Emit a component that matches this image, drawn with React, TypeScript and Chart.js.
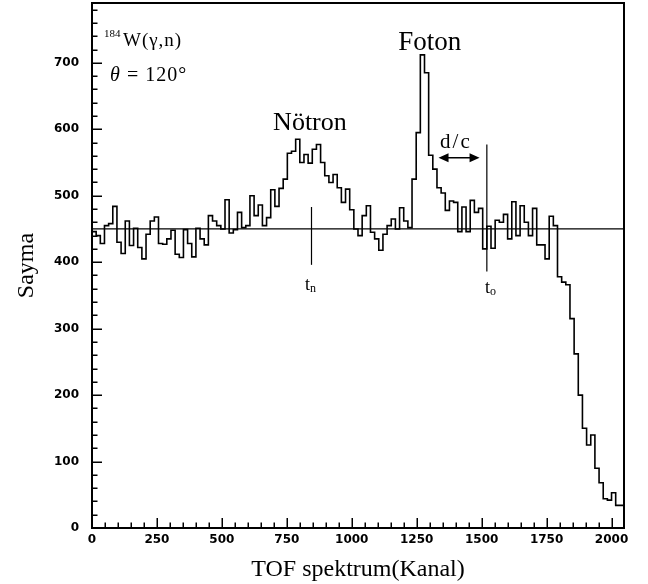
import React, { useEffect, useRef } from "react";
import { Chart, registerables } from "chart.js";

Chart.register(...registerables);

// ---------- data ----------
const BIN_WIDTH = 16;
const X_MAX = 2048;
const Y_MAX = 790;
const X_TICKS = [0, 250, 500, 750, 1000, 1250, 1500, 1750, 2000];
const Y_TICKS = [0, 100, 200, 300, 400, 500, 600, 700];
const X_MINOR_STEP = 50;
const Y_MINOR_STEP = 20;

// counts per 16-channel bin (128 bins, channel 0..2048)
const counts = [
  472, 446, 440, 428, 455, 458, 484, 430, 413, 462, 425, 451, 422, 405, 442, 462,
  468, 428, 427, 435, 448, 412, 407, 449, 428, 408, 451, 435, 426, 470, 462, 455,
  450, 494, 444, 449, 475, 452, 455, 500, 470, 486, 455, 467, 509, 484, 511, 525,
  564, 567, 585, 550, 562, 549, 570, 577, 550, 530, 520, 532, 512, 490, 510, 479,
  450, 440, 470, 485, 445, 435, 418, 442, 455, 465, 450, 482, 462, 452, 525, 595,
  712, 685, 561, 540, 512, 504, 478, 492, 490, 446, 483, 446, 493, 475, 481, 420,
  454, 421, 463, 460, 472, 435, 491, 440, 485, 460, 440, 481, 426, 426, 405, 469,
  455, 378, 370, 366, 315, 262, 200, 150, 125, 140, 90, 68, 44, 42, 53, 34,
];

const BASELINE = 450;
const TN_CHANNEL = 845;
const TN_RANGE = [396, 483];
const TO_CHANNEL = 1520;
const TO_RANGE = [386, 577];
const DC_RANGE = [1334, 1492];
const DC_LEVEL = 557;

const X_TITLE = "TOF spektrum(Kanal)";
const Y_TITLE = "Sayma";

// ---------- helpers ----------
const histPoints = counts.map((c, i) => ({ x: i * BIN_WIDTH, y: c }));
histPoints.push({ x: counts.length * BIN_WIDTH, y: counts[counts.length - 1] });

const SERIF = '"Liberation Serif", "Times New Roman", serif';
const TICK_FONT = { family: '"DejaVu Sans", sans-serif', size: 12, weight: "bold" as const };

const framePlugin = {
  id: "frameTicks",
  afterDraw(chart: any) {
    const ctx = chart.ctx;
    const { left, right, top, bottom } = chart.chartArea;
    const xs = chart.scales.x;
    const ys = chart.scales.y;
    ctx.save();
    ctx.strokeStyle = "#000";
    ctx.lineWidth = 1.5;
    ctx.beginPath();
    for (let v = 0; v <= X_MAX; v += X_MINOR_STEP) {
      const px = Math.round(xs.getPixelForValue(v)) + 0.25;
      const len = X_TICKS.includes(v) ? 10 : 5.5;
      ctx.moveTo(px, bottom);
      ctx.lineTo(px, bottom - len);
    }
    for (let v = 0; v <= Y_MAX; v += Y_MINOR_STEP) {
      const py = Math.round(ys.getPixelForValue(v)) + 0.25;
      const len = Y_TICKS.includes(v) ? 10 : 5.5;
      ctx.moveTo(left, py);
      ctx.lineTo(left + len, py);
    }
    ctx.stroke();
    ctx.lineWidth = 2;
    ctx.strokeRect(left, top, right - left, bottom - top);
    ctx.restore();
  },
};

const annotationPlugin = {
  id: "annotations",
  afterDatasetsDraw(chart: any) {
    const ctx = chart.ctx;
    const xs = chart.scales.x;
    const ys = chart.scales.y;
    const X = (v: number) => xs.getPixelForValue(v);
    const Y = (v: number) => ys.getPixelForValue(v);
    ctx.save();
    ctx.fillStyle = "#000";
    ctx.strokeStyle = "#000";
    ctx.textBaseline = "alphabetic";

    // reaction label
    ctx.textAlign = "left";
    ctx.font = `11px ${SERIF}`;
    ctx.fillText("184", X(46), Y(739));
    ctx.font = `19px ${SERIF}`;
    (ctx as any).letterSpacing = "1px";
    ctx.fillText("W(γ,n)", X(46) + 19, Y(725));
    ctx.font = `italic 20px ${SERIF}`;
    ctx.fillText("θ", X(69), Y(673));
    ctx.font = `20px ${SERIF}`;
    ctx.fillText(" = 120°", X(69) + 11, Y(673));

    // peak labels
    (ctx as any).letterSpacing = "0px";
    ctx.textAlign = "center";
    ctx.font = `26px ${SERIF}`;
    ctx.fillText("Nötron", X(839), Y(599));
    ctx.font = `27px ${SERIF}`;
    ctx.fillText("Foton", X(1300), Y(719));

    // d/c
    ctx.textAlign = "left";
    ctx.font = `21px ${SERIF}`;
    (ctx as any).letterSpacing = "2px";
    ctx.fillText("d/c", X(1340), Y(572));
    (ctx as any).letterSpacing = "0px";

    // t_n, t_o
    ctx.font = `18px ${SERIF}`;
    ctx.fillText("t", X(820), Y(358));
    ctx.font = `12px ${SERIF}`;
    ctx.fillText("n", X(820) + 5, Y(358) + 2);
    ctx.font = `18px ${SERIF}`;
    ctx.fillText("t", X(1513), Y(354));
    ctx.font = `12px ${SERIF}`;
    ctx.fillText("o", X(1513) + 5, Y(354) + 2);

    // double arrow
    const x1 = X(DC_RANGE[0]);
    const x2 = X(DC_RANGE[1]);
    const ay = Y(DC_LEVEL);
    ctx.lineWidth = 1.5;
    ctx.beginPath();
    ctx.moveTo(x1 + 4, ay);
    ctx.lineTo(x2 - 4, ay);
    ctx.stroke();
    const head = 10;
    const half = 4.5;
    ctx.beginPath();
    ctx.moveTo(x1, ay);
    ctx.lineTo(x1 + head, ay - half);
    ctx.lineTo(x1 + head, ay + half);
    ctx.closePath();
    ctx.moveTo(x2, ay);
    ctx.lineTo(x2 - head, ay - half);
    ctx.lineTo(x2 - head, ay + half);
    ctx.closePath();
    ctx.fill();
    ctx.restore();
  },
};

export default function App() {
  const canvasRef = useRef<HTMLCanvasElement | null>(null);

  useEffect(() => {
    const canvas = canvasRef.current;
    if (!canvas) return;
    const lineStyle = {
      borderColor: "#000",
      pointRadius: 0,
      fill: false,
      tension: 0,
    };
    const chart = new Chart(canvas, {
      type: "line",
      data: {
        datasets: [
          {
            label: "Sayma",
            data: histPoints,
            stepped: "after",
            borderWidth: 1.6,
            ...lineStyle,
          },
          {
            label: "baseline",
            data: [
              { x: 0, y: BASELINE },
              { x: X_MAX, y: BASELINE },
            ],
            borderWidth: 1.2,
            ...lineStyle,
          },
          {
            label: "tn",
            data: [
              { x: TN_CHANNEL, y: TN_RANGE[0] },
              { x: TN_CHANNEL, y: TN_RANGE[1] },
            ],
            borderWidth: 1.2,
            ...lineStyle,
          },
          {
            label: "to",
            data: [
              { x: TO_CHANNEL, y: TO_RANGE[0] },
              { x: TO_CHANNEL, y: TO_RANGE[1] },
            ],
            borderWidth: 1.2,
            ...lineStyle,
          },
        ],
      } as any,
      options: {
        animation: false,
        responsive: false,
        devicePixelRatio: 1,
        layout: { padding: { top: 3, right: 24, left: 0, bottom: 0 } },
        plugins: {
          legend: { display: false },
          tooltip: { enabled: false },
        },
        scales: {
          x: {
            type: "linear",
            min: 0,
            max: X_MAX,
            afterBuildTicks: (s: any) => {
              s.ticks = X_TICKS.map((v) => ({ value: v }));
            },
            afterFit: (s: any) => {
              s.height = 56;
              s.paddingLeft = 0;
              s.paddingRight = 0;
            },
            ticks: {
              color: "#000",
              font: TICK_FONT,
              padding: 5,
              maxRotation: 0,
              autoSkip: false,
              callback: (v: any) => String(v),
            },
            grid: { display: false, drawTicks: false },
            border: { display: false },
            title: {
              display: true,
              text: X_TITLE,
              color: "#000",
              font: { family: SERIF, size: 24 },
              padding: { top: 1, bottom: 0 },
            },
          },
          y: {
            type: "linear",
            min: 0,
            max: Y_MAX,
            afterBuildTicks: (s: any) => {
              s.ticks = Y_TICKS.map((v) => ({ value: v }));
            },
            afterFit: (s: any) => {
              s.width = 92;
              s.paddingTop = 0;
              s.paddingBottom = 0;
            },
            ticks: {
              color: "#000",
              font: TICK_FONT,
              padding: 13,
              callback: (v: any) => String(v),
            },
            grid: { display: false, drawTicks: false },
            border: { display: false },
            title: {
              display: true,
              text: Y_TITLE,
              color: "#000",
              font: { family: SERIF, size: 24 },
              padding: { top: 12, bottom: 0 },
            },
          },
        },
      } as any,
      plugins: [annotationPlugin, framePlugin],
    });
    return () => chart.destroy();
  }, []);

  return (
    <canvas
      ref={canvasRef}
      width={648}
      height={584}
      style={{ position: "fixed", left: 0, top: 0, background: "#fff" }}
    />
  );
}
